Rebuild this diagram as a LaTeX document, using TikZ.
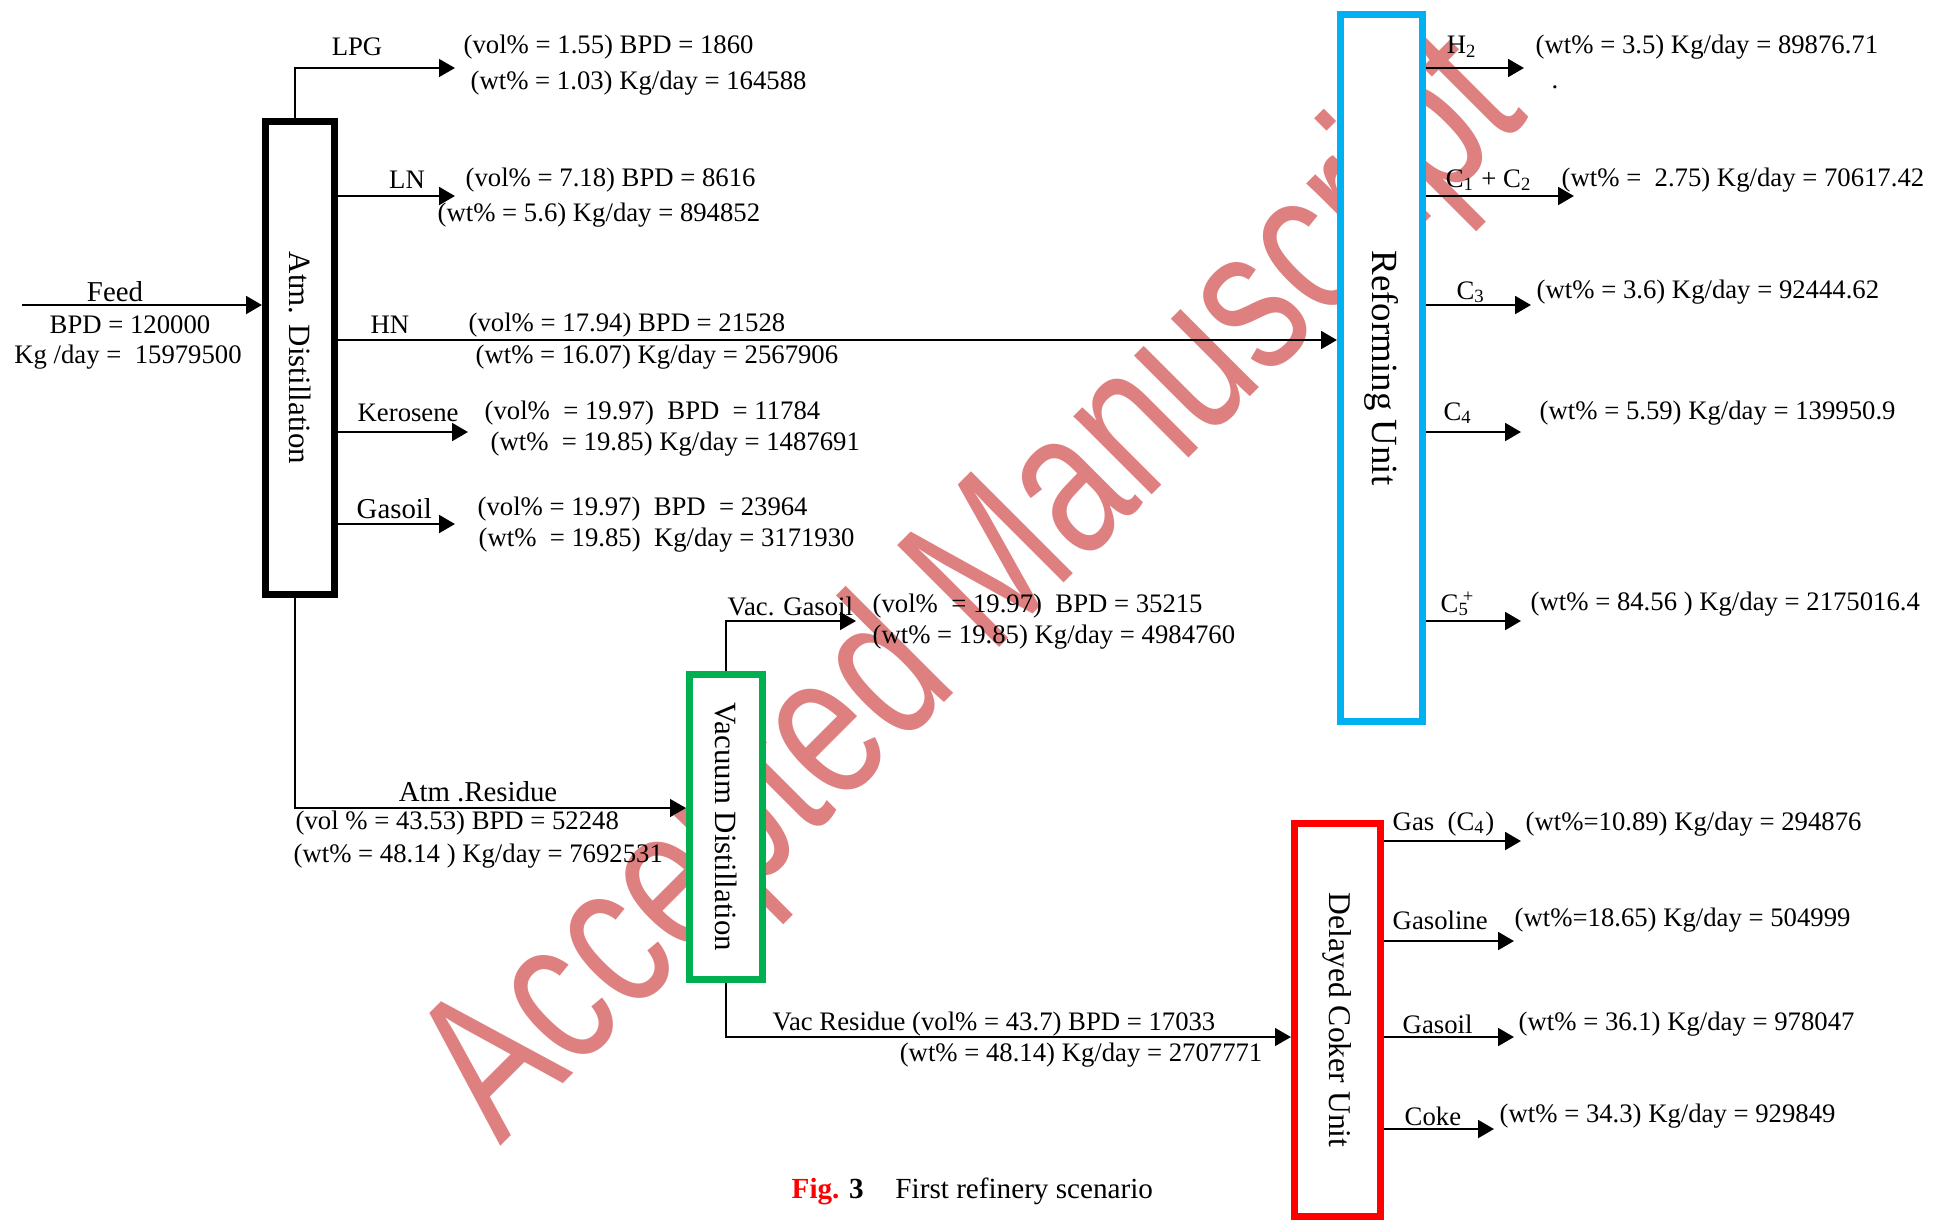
\documentclass[tikz,border=0pt]{standalone}
\usepackage{fontspec}
\setmainfont{Liberation Serif}
\newfontfamily\wmfont{Liberation Sans}
\usetikzlibrary{arrows.meta, positioning, calc}
\definecolor{refblue}{HTML}{00B0F0}
\definecolor{vacgreen}{HTML}{00B050}
\definecolor{wmred}{RGB}{222,128,128}

\begin{document}
\begin{tikzpicture}[
  unit/.style={draw, line width=2pt, fill=white, inner sep=0pt},
  lbl/.style={font=\fontsize{7.6}{9}\selectfont, inner sep=0pt},
  big/.style={font=\fontsize{8.2}{10}\selectfont, inner sep=0pt},
  arr/.style={-{Triangle[length=4.5pt, width=5pt]}, line width=0.8pt},
  pipe/.style={-{Triangle[length=4.5pt, width=5pt]}, line width=0.6pt},
]
  \useasboundingbox (0,0) rectangle (19.46,-12.23);

  % watermark
  \begin{scope}[shift={(5.00,-11.47)}, rotate=45, xscale=0.745]
    \node[transform shape, text=wmred, inner sep=0pt, anchor=base west,
          font=\wmfont\fontsize{59.6}{60}\selectfont] (wm) at (0,0) {Accepted Manuscript};
  \end{scope}

  % units
  \node[unit, minimum width=0.69cm, minimum height=4.73cm] (atm) at (3.00,-3.58)
    {\rotatebox{-90}{\fontsize{8.8}{10}\selectfont Atm. Distillation}};
  \node[unit, draw=vacgreen, minimum width=0.73cm, minimum height=3.05cm] (vac) at (7.26,-8.27)
    {\rotatebox{-90}{\fontsize{8.8}{10}\selectfont Vacuum Distillation}};
  \node[unit, draw=refblue, minimum width=0.82cm, minimum height=7.07cm] (ref) at (13.815,-3.68)
    {\rotatebox{-90}{\fontsize{10.5}{12}\selectfont Reforming Unit}};
  \node[unit, draw=red, minimum width=0.86cm, minimum height=3.93cm] (dcu) at (13.375,-10.20)
    {\rotatebox{-90}{\fontsize{9}{11}\selectfont Delayed Coker Unit}};

  % stream ends
  \coordinate (feedIn) at (0.22,-3.05);
  \coordinate (lpgEnd) at (4.55,-0.68);
  \coordinate (lnEnd)  at (4.55,-1.96);
  \coordinate (hnY)    at (0,-3.40);
  \coordinate (kerEnd) at (4.68,-4.32);
  \coordinate (goEnd)  at (4.55,-5.24);
  \coordinate (vgoEnd) at (8.56,-6.21);
  \coordinate (h2End)  at (15.24,-0.68);
  \coordinate (c12End) at (15.74,-1.96);
  \coordinate (c3End)  at (15.31,-3.05);
  \coordinate (c4End)  at (15.21,-4.32);
  \coordinate (c5End)  at (15.21,-6.21);
  \coordinate (gasEnd) at (15.21,-8.41);
  \coordinate (glnEnd) at (15.14,-9.41);
  \coordinate (dgoEnd) at (15.14,-10.37);
  \coordinate (cokEnd) at (14.94,-11.29);

  % atmospheric column
  \draw[arr] (feedIn) -- (atm.west |- feedIn);
  \draw[pipe] ([xshift=-0.05cm]atm.north) |- (lpgEnd);
  \draw[arr] (atm.east |- lnEnd) -- (lnEnd);
  \draw[arr] (atm.east |- hnY) -- (ref.west |- hnY);
  \draw[arr] (atm.east |- kerEnd) -- (kerEnd);
  \draw[arr] (atm.east |- goEnd) -- (goEnd);
  \draw[pipe] ([xshift=-0.05cm]atm.south) |- ([yshift=0.19cm]vac.west);

  % vacuum column
  \draw[pipe] (vac.north) |- (vgoEnd);
  \draw[pipe] (vac.south) |- ([yshift=-0.17cm]dcu.west);

  % reformer products
  \draw[arr] (ref.east |- h2End) -- (h2End);
  \draw[arr] (ref.east |- c12End) -- (c12End);
  \draw[arr] (ref.east |- c3End) -- (c3End);
  \draw[arr] (ref.east |- c4End) -- (c4End);
  \draw[arr] (ref.east |- c5End) -- (c5End);

  % coker products
  \draw[arr] (dcu.east |- gasEnd) -- (gasEnd);
  \draw[arr] (dcu.east |- glnEnd) -- (glnEnd);
  \draw[arr] (dcu.east |- dgoEnd) -- (dgoEnd);
  \draw[arr] (dcu.east |- cokEnd) -- (cokEnd);

  % labels
  \node[big] (feedL) at (1.15,-2.92) {Feed};
  \node[lbl] (feedV) at (1.30,-3.25) {BPD = 120000};
  \node[lbl] (feedW) at (1.28,-3.57) {Kg /day =~ 15979500};

  \node[lbl] (lpgL) at (3.57,-0.47) {LPG};
  \node[lbl, anchor=west] (lpgV) at (4.63,-0.47) {(vol\% = 1.55) BPD = 1860};
  \node[lbl, anchor=west] (lpgW) at (4.70,-0.83) {(wt\% = 1.03) Kg/day = 164588};

  \node[lbl] (lnL) at (4.07,-1.80) {LN};
  \node[lbl, anchor=west] (lnV) at (4.65,-1.80) {(vol\% = 7.18) BPD = 8616};
  \node[lbl, anchor=west] (lnW) at (4.37,-2.15) {(wt\% = 5.6) Kg/day = 894852};

  \node[lbl] (hnL) at (3.90,-3.25) {HN};
  \node[lbl, anchor=west] (hnV) at (4.68,-3.25) {(vol\% = 17.94) BPD = 21528};
  \node[lbl, anchor=west] (hnW) at (4.75,-3.57) {(wt\% = 16.07) Kg/day = 2567906};

  \node[lbl, anchor=west] (kerL) at (3.57,-4.13) {Kerosene};
  \node[lbl, anchor=west] (kerV) at (4.84,-4.13) {(vol\%~ = 19.97)~ BPD~ = 11784};
  \node[lbl, anchor=west] (kerW) at (4.90,-4.44) {(wt\%~ = 19.85) Kg/day = 1487691};

  \node[big, anchor=west] (goL) at (3.56,-5.09) {Gasoil};
  \node[lbl, anchor=west] (goV) at (4.77,-5.09) {(vol\% = 19.97)~ BPD~ = 23964};
  \node[lbl, anchor=west] (goW) at (4.78,-5.40) {(wt\%~ = 19.85)~ Kg/day = 3171930};

  \node[big] (resL) at (4.78,-7.92) {Atm .Residue};
  \node[lbl, anchor=west] (resV) at (2.95,-8.23) {(vol \% = 43.53) BPD = 52248};
  \node[lbl, anchor=west] (resW) at (2.93,-8.56) {(wt\% = 48.14 ) Kg/day = 7692531};

  \node[lbl, anchor=west] (vgoL) at (7.27,-6.06) {Vac. Gasoil};
  \node[lbl, anchor=west] (vgoV) at (8.72,-6.06) {(vol\%~ = 19.97)~ BPD = 35215};
  \node[lbl, anchor=west] (vgoW) at (8.72,-6.37) {(wt\% = 19.85) Kg/day = 4984760};

  \node[lbl, anchor=west] (vrV) at (7.72,-10.24) {Vac Residue (vol\% = 43.7) BPD = 17033};
  \node[lbl, anchor=east] (vrW) at (12.63,-10.55) {(wt\% = 48.14) Kg/day = 2707771};

  \node[lbl] (h2L) at (14.62,-0.47) {H\textsubscript{2}};
  \node[lbl, anchor=west] (h2W) at (15.35,-0.47) {(wt\% = 3.5) Kg/day = 89876.71};
  \node[lbl] (dot) at (15.55,-0.87) {.};
  \node[lbl] (c12L) at (14.89,-1.80) {C\textsubscript{1} + C\textsubscript{2}};
  \node[lbl, anchor=west] (c12W) at (15.61,-1.80) {(wt\% =~ 2.75) Kg/day = 70617.42};
  \node[lbl] (c3L) at (14.71,-2.92) {C\textsubscript{3}};
  \node[lbl, anchor=west] (c3W) at (15.36,-2.92) {(wt\% = 3.6) Kg/day = 92444.62};
  \node[lbl] (c4L) at (14.58,-4.13) {C\textsubscript{4}};
  \node[lbl, anchor=west] (c4W) at (15.39,-4.13) {(wt\% = 5.59) Kg/day = 139950.9};
  \node[lbl] (c5L) at (14.58,-6.04) {C\textsubscript{5}\kern-0.25em\textsuperscript{+}};
  \node[lbl, anchor=west] (c5W) at (15.30,-6.04) {(wt\% = 84.56 ) Kg/day = 2175016.4};

  \node[lbl, anchor=west] (gasL) at (13.92,-8.24) {Gas~ (C\textsubscript{4})};
  \node[lbl, anchor=west] (gasW) at (15.25,-8.24) {(wt\%=10.89) Kg/day = 294876};
  \node[lbl, anchor=west] (glnL) at (13.92,-9.20) {Gasoline};
  \node[lbl, anchor=west] (glnW) at (15.14,-9.20) {(wt\%=18.65) Kg/day = 504999};
  \node[lbl, anchor=west] (dgoL) at (14.02,-10.24) {Gasoil};
  \node[lbl, anchor=west] (dgoW) at (15.18,-10.24) {(wt\% = 36.1) Kg/day = 978047};
  \node[lbl, anchor=west] (cokL) at (14.04,-11.16) {Coke};
  \node[lbl, anchor=west] (cokW) at (14.99,-11.16) {(wt\% = 34.3) Kg/day = 929849};

  % caption
  \node[font=\fontsize{8.3}{10}\selectfont, inner sep=0pt, anchor=west] (cap) at (7.91,-11.91)
    {\textcolor{red}{\textbf{Fig.}} \textbf{3}\hspace{9pt}First refinery scenario};
\end{tikzpicture}
\end{document}
